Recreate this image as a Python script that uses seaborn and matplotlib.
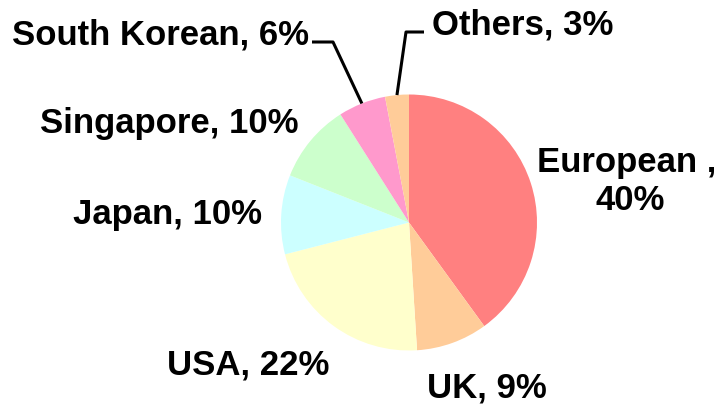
import numpy as np
import matplotlib
matplotlib.use("Agg")
import matplotlib.pyplot as plt
import seaborn as sns

# data
labels = ["European", "UK", "USA", "Japan", "Singapore", "South Korean", "Others"]
shares = [40, 9, 22, 10, 10, 6, 3]
colors = ["#FF8080", "#FFCC99", "#FFFFCC", "#CCFFFF", "#CCFFCC", "#FF99CC", "#FFCC99"]
label_texts = ["European ,\n40%", "UK, 9%", "USA, 22%", "Japan, 10%",
               "Singapore, 10%", "South Korean, 6%", "Others, 3%"]

sns.set_theme(style="white")
plt.rcParams["font.family"] = ["Liberation Sans", "DejaVu Sans"]

W, H = 721, 406
fig = plt.figure(figsize=(W / 100, H / 100), dpi=100)
ax = fig.add_axes([0, 0, 1, 1])

cx, cy, r = 409, H - 223.5, 128
wedges, _ = ax.pie(
    shares,
    colors=sns.color_palette(colors),
    startangle=90,
    counterclock=False,
    center=(cx, cy),
    radius=r,
    wedgeprops=dict(linewidth=0),
)
ax.set_xlim(0, W)
ax.set_ylim(0, H)
ax.set_aspect("equal")
ax.axis("off")

fs = 25
# label placement (pixel coords, y from top): x, baseline, ha
label_pos = {
    "European": (627, 172, "center"),
    "UK": (427, 398, "left"),
    "USA": (167, 375, "left"),
    "Japan": (73, 224, "left"),
    "Singapore": (40, 133, "left"),
    "South Korean": (12, 45, "left"),
    "Others": (432, 35, "left"),
}
for name, txt in zip(labels, label_texts):
    x, y, ha = label_pos[name]
    if "\n" in txt:
        first, second = txt.split("\n")
        ax.text(x, H - y, first, ha=ha, va="baseline", fontsize=fs,
                fontweight="bold", color="black")
        ax.text(x + 3, H - y - 38, second, ha=ha, va="baseline", fontsize=fs,
                fontweight="bold", color="black")
    else:
        ax.text(x, H - y, txt, ha=ha, va="baseline", fontsize=fs,
                fontweight="bold", color="black")

# leader lines from label to wedge mid point on the rim
leaders = {"South Korean": [(312, 43), (333, 43)], "Others": [(424, 33), (406, 33)]}
for name, pts in leaders.items():
    w = wedges[labels.index(name)]
    mid = np.deg2rad((w.theta1 + w.theta2) / 2)
    ex, ey = cx + r * np.cos(mid), cy + r * np.sin(mid)
    xs = [p[0] for p in pts] + [ex]
    ys = [H - p[1] for p in pts] + [ey]
    ax.plot(xs, ys, color="black", lw=2.2, solid_capstyle="butt")

plt.savefig("out.png", dpi=100)
